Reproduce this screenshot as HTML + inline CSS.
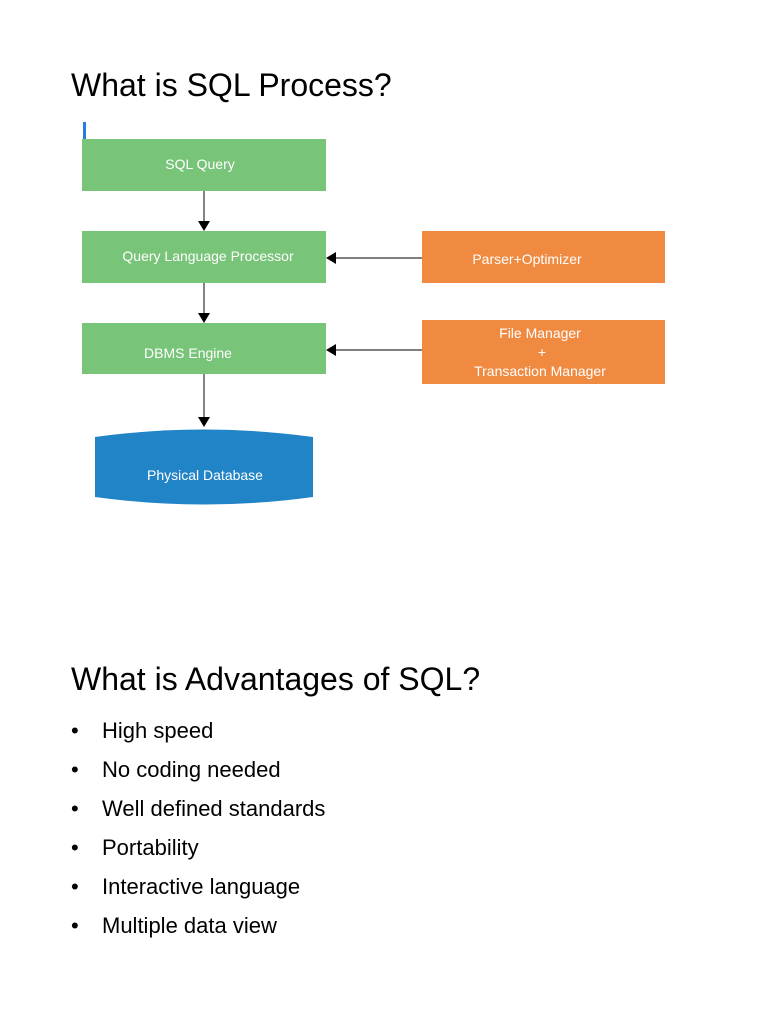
<!DOCTYPE html>
<html><head><meta charset="utf-8"><style>
body{margin:0;width:768px;height:1024px;background:#fff;font-family:"Liberation Sans","DejaVu Sans",sans-serif;position:relative;overflow:hidden}
.t{position:absolute;left:71px;font-size:32px;color:#000;white-space:nowrap}
.b{position:absolute;left:71px;font-size:22px;color:#000}
.b span{position:absolute;left:0}
.b div{position:absolute;left:31px;white-space:nowrap}
</style></head><body>
<div class="t" style="top:67px">What is SQL Process?</div>
<svg width="768" height="520" style="position:absolute;left:0;top:0" font-family="Liberation Sans, sans-serif" font-size="14" fill="#fff">
<rect x="83" y="122" width="3" height="17" fill="#2a7ae0"/>
<rect x="82" y="139" width="244" height="52" fill="#78c479"/>
<rect x="82" y="231" width="244" height="52" fill="#78c479"/>
<rect x="82" y="323" width="244" height="51" fill="#78c479"/>
<rect x="422" y="231" width="243" height="52" fill="#f08a41"/>
<rect x="422" y="320" width="243" height="64" fill="#f08a41"/>
<path d="M95 437 Q204 422 313 437 L313 497 Q204 512 95 497 Z" fill="#2184c7"/>
<g stroke="#333" stroke-width="1.2">
<line x1="204" y1="191" x2="204" y2="222"/><line x1="204" y1="283" x2="204" y2="314"/><line x1="204" y1="374" x2="204" y2="418"/>
<line x1="422" y1="258" x2="336" y2="258"/><line x1="422" y1="350" x2="336" y2="350"/>
</g>
<g fill="#000">
<path d="M198 221 L210 221 L204 231Z"/><path d="M198 313 L210 313 L204 323Z"/><path d="M198 417 L210 417 L204 427Z"/>
<path d="M336 252 L336 264 L326 258Z"/><path d="M336 344 L336 356 L326 350Z"/>
</g>
<text x="200" y="169" text-anchor="middle">SQL Query</text>
<text x="208" y="261" text-anchor="middle">Query Language Processor</text>
<text x="188" y="358" text-anchor="middle">DBMS Engine</text>
<text x="527" y="264" text-anchor="middle">Parser+Optimizer</text>
<text x="540" y="338" text-anchor="middle">File Manager</text>
<text x="542" y="357" text-anchor="middle">+</text>
<text x="540" y="376" text-anchor="middle">Transaction Manager</text>
<text x="205" y="480" text-anchor="middle">Physical Database</text>
</svg>
<div class="t" style="top:661px">What is Advantages of SQL?</div>
<div class="b" style="top:718px"><span>•</span><div>High speed</div></div>
<div class="b" style="top:757px"><span>•</span><div>No coding needed</div></div>
<div class="b" style="top:796px"><span>•</span><div>Well defined standards</div></div>
<div class="b" style="top:835px"><span>•</span><div>Portability</div></div>
<div class="b" style="top:874px"><span>•</span><div>Interactive language</div></div>
<div class="b" style="top:913px"><span>•</span><div>Multiple data view</div></div>
</body></html>
